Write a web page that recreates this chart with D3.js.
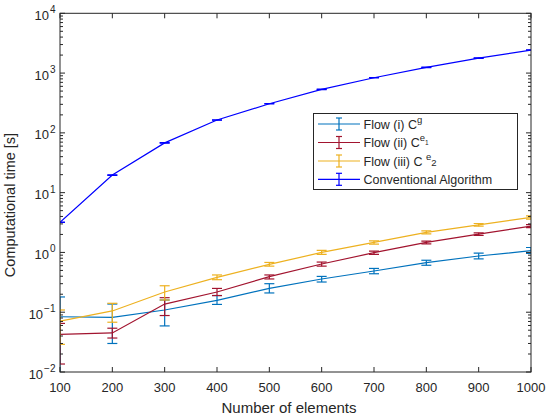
<!DOCTYPE html>
<html>
<head>
<meta charset="utf-8">
<script src="https://cdn.jsdelivr.net/npm/d3@7"></script>
<style>
  body { margin: 0; background: #fff; }
  text { font-family: "Liberation Sans", Arial, sans-serif; fill: #262626; }
</style>
</head>
<body>
<svg id="chart" width="550" height="419"></svg>
<script>
const elements = [100, 200, 300, 400, 500, 600, 700, 800, 900, 1000];

const flowG     = [0.084, 0.082, 0.109, 0.158, 0.251, 0.359, 0.489, 0.673, 0.871, 1.07];
const flowGLow  = [0.004, 0.030, 0.059, 0.135, 0.21, 0.32, 0.44, 0.61, 0.78, 0.96];
const flowGHigh = [0.18, 0.137, 0.16, 0.19, 0.30, 0.397, 0.54, 0.74, 0.97, 1.21];

const flowE1     = [0.0427, 0.045, 0.137, 0.218, 0.393, 0.64, 0.99, 1.47, 2.03, 2.76];
const flowE1Low  = [0.0136, 0.037, 0.088, 0.19, 0.36, 0.59, 0.93, 1.39, 1.93, 2.6];
const flowE1High = [0.065, 0.054, 0.175, 0.25, 0.42, 0.69, 1.05, 1.55, 2.13, 2.92];

const flowE2     = [0.071, 0.105, 0.218, 0.383, 0.63, 1.0, 1.47, 2.17, 2.90, 3.86];
const flowE2Low  = [0.029, 0.068, 0.16, 0.35, 0.59, 0.93, 1.38, 2.05, 2.75, 3.6];
const flowE2High = [0.109, 0.141, 0.277, 0.42, 0.68, 1.08, 1.56, 2.3, 3.05, 4.1];

const conventional     = [3.2, 19.7, 68, 164, 307, 533, 836, 1245, 1782, 2427];
const conventionalLow  = [3.17, 19.5, 67.4, 162.5, 304, 528, 828, 1233, 1765, 2405];
const conventionalHigh = [3.23, 19.9, 68.6, 165.5, 310, 538, 844, 1257, 1799, 2450];

const yExponents = [-2, -1, 0, 1, 2, 3, 4];

const series = [
  { vals: flowG,  lo: flowGLow,  hi: flowGHigh,  color: "#0072BD" },
  { vals: flowE1, lo: flowE1Low, hi: flowE1High, color: "#A2142F" },
  { vals: flowE2, lo: flowE2Low, hi: flowE2High, color: "#EDB120" },
  { vals: conventional, lo: conventionalLow, hi: conventionalHigh, color: "#0000FF" }
];

const svg = d3.select("#chart");
const pLeft = 60, pRight = 531, pTop = 13.3, pBottom = 372;

const x = d3.scaleLinear().domain([100, 1000]).range([pLeft, pRight]);
const y = d3.scaleLog().domain([1e-2, 1e4]).range([pBottom, pTop]);

svg.append("defs").append("clipPath").attr("id", "clip")
  .append("rect").attr("x", pLeft).attr("y", pTop)
  .attr("width", pRight - pLeft).attr("height", pBottom - pTop);

const plot = svg.append("g").attr("clip-path", "url(#clip)");
const line = d3.line().x((d, i) => x(elements[i])).y(d => y(d));
const cap = 5;

series.forEach(s => {
  const g = plot.append("g").attr("stroke", s.color).attr("fill", "none").attr("stroke-width", 1.2);
  g.append("path").attr("d", line(s.vals));
  elements.forEach((e, i) => {
    const xs = x(e), y0 = y(s.lo[i]), y1 = y(s.hi[i]);
    g.append("line").attr("x1", xs).attr("x2", xs).attr("y1", y0).attr("y2", y1);
    g.append("line").attr("x1", xs - cap).attr("x2", xs + cap).attr("y1", y0).attr("y2", y0);
    g.append("line").attr("x1", xs - cap).attr("x2", xs + cap).attr("y1", y1).attr("y2", y1);
  });
});

// axes box and ticks
const axisColor = "#262626";
svg.append("rect").attr("x", pLeft).attr("y", pTop)
  .attr("width", pRight - pLeft).attr("height", pBottom - pTop)
  .attr("fill", "none").attr("stroke", axisColor).attr("stroke-width", 1);

const ticks = svg.append("g").attr("stroke", axisColor).attr("stroke-width", 1);
elements.forEach(e => {
  ticks.append("line").attr("x1", x(e)).attr("x2", x(e)).attr("y1", pBottom).attr("y2", pBottom - 5);
  ticks.append("line").attr("x1", x(e)).attr("x2", x(e)).attr("y1", pTop).attr("y2", pTop + 5);
});
yExponents.forEach(p => {
  const yy = y(Math.pow(10, p));
  ticks.append("line").attr("x1", pLeft).attr("x2", pLeft + 5).attr("y1", yy).attr("y2", yy);
  ticks.append("line").attr("x1", pRight).attr("x2", pRight - 5).attr("y1", yy).attr("y2", yy);
  if (p < 4) {
    for (let m = 2; m <= 9; m++) {
      const ym = y(m * Math.pow(10, p));
      ticks.append("line").attr("x1", pLeft).attr("x2", pLeft + 3).attr("y1", ym).attr("y2", ym);
      ticks.append("line").attr("x1", pRight).attr("x2", pRight - 3).attr("y1", ym).attr("y2", ym);
    }
  }
});

// x tick labels
svg.append("g").selectAll("text").data(elements).join("text")
  .attr("x", d => x(d)).attr("y", 391.5)
  .attr("text-anchor", "middle").attr("font-size", 13)
  .text(d => d);

// y tick labels
yExponents.forEach(p => {
  const t = svg.append("text").attr("x", 55.5).attr("y", y(Math.pow(10, p)) + 6.5)
    .attr("text-anchor", "end").attr("font-size", 13);
  t.append("tspan").text("10");
  t.append("tspan").attr("dx", 1).attr("dy", -6.5).attr("font-size", 10)
    .text(p < 0 ? "\u2212" + Math.abs(p) : String(p));
});

svg.append("text").attr("x", 289).attr("y", 413)
  .attr("text-anchor", "middle").attr("font-size", 15)
  .text("Number of elements");

svg.append("text").attr("transform", "translate(15, 205) rotate(-90)")
  .attr("text-anchor", "middle").attr("font-size", 14.5)
  .text("Computational time [s]");

// legend
const legend = svg.append("g");
legend.append("rect").attr("x", 313.5).attr("y", 113.5).attr("width", 204).attr("height", 76)
  .attr("fill", "#fff").attr("stroke", axisColor).attr("stroke-width", 1);

const legendRows = [124, 142.5, 161, 179.3];
const legendLabels = [
  t => { t.append("tspan").text("Flow (i) C"); t.append("tspan").attr("dy", -6).attr("font-size", 9.5).text("g"); },
  t => {
    t.append("tspan").text("Flow (ii) C");
    t.append("tspan").attr("dy", -6).attr("font-size", 9.5).text("e");
    t.append("tspan").attr("dy", 4).attr("font-size", 6.5).text("1");
  },
  t => {
    t.append("tspan").text("Flow (iii) C ");
    t.append("tspan").attr("dy", -6).attr("font-size", 9.5).text("e");
    t.append("tspan").attr("dy", 6).attr("font-size", 9.5).text("2");
  },
  t => { t.append("tspan").text("Conventional Algorithm"); }
];

series.forEach((s, i) => {
  const yy = legendRows[i];
  const g = legend.append("g").attr("stroke", s.color).attr("stroke-width", 1.2);
  g.append("line").attr("x1", 318).attr("x2", 360).attr("y1", yy).attr("y2", yy);
  g.append("line").attr("x1", 339).attr("x2", 339).attr("y1", yy - 6).attr("y2", yy + 6);
  g.append("line").attr("x1", 336).attr("x2", 342).attr("y1", yy - 6).attr("y2", yy - 6);
  g.append("line").attr("x1", 336).attr("x2", 342).attr("y1", yy + 6).attr("y2", yy + 6);
  const t = legend.append("text").attr("x", 363.5).attr("y", yy + 4.5).attr("font-size", 12.5);
  legendLabels[i](t);
});
</script>
</body>
</html>
